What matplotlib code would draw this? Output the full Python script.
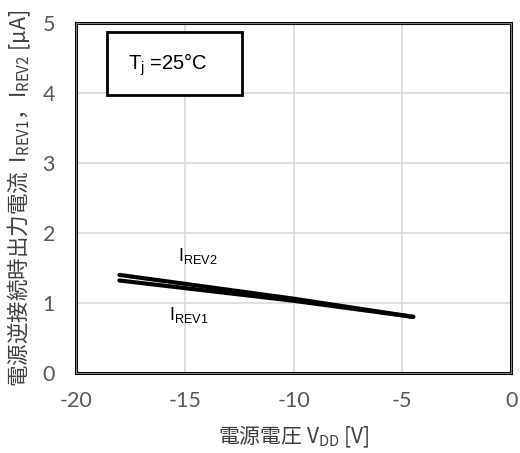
import matplotlib
matplotlib.use("Agg")
import matplotlib.pyplot as plt
from matplotlib.patches import Rectangle

plt.rcParams['font.family'] = ['Noto Sans CJK JP', 'DejaVu Sans']
plt.rcParams['mathtext.fontset'] = 'custom'
plt.rcParams['mathtext.rm'] = 'Liberation Sans'
plt.rcParams['axes.unicode_minus'] = False

# data
vdd = [-18, -10, -4.5]
irev1 = [1.32, 1.03, 0.80]
irev2 = [1.40, 1.06, 0.80]

xticks = [-20, -15, -10, -5, 0]
yticks = [0, 1, 2, 3, 4, 5]

fig = plt.figure(figsize=(5.2, 4.53), dpi=100)
ax = fig.add_axes([0.146, 0.177, 0.837, 0.772])

ax.plot(vdd, irev1, color='black', lw=3, solid_capstyle='round', zorder=3)
ax.plot(vdd, irev2, color='black', lw=3, solid_capstyle='round', zorder=3)

ax.set_xlim(-20, 0)
ax.set_ylim(0, 5)
ax.set_xticks(xticks)
ax.set_yticks(yticks)
ax.grid(True, color='#d9d9d9', lw=1.2)
ax.set_axisbelow(True)
ax.tick_params(length=0, labelsize=15.5, colors='#595959')
ax.tick_params(axis='x', pad=13)
ax.tick_params(axis='y', pad=15)
for lbl in ax.get_xticklabels() + ax.get_yticklabels():
    lbl.set_family(['Lato'])
for sp in ax.spines.values():
    sp.set_linewidth(2.2)
    sp.set_color('black')

# inner thin frame line (double border look)
ax.plot([0, 1, 1, 0, 0], [0, 0, 1, 1, 0], transform=ax.transAxes,
        color='#7f7f7f', lw=0.8, clip_on=False, zorder=4)

ax.set_xlabel(r'電源電圧 V$_\mathregular{DD}$ [V]', fontsize=15, color='#404040', labelpad=9)
ax.set_ylabel(r'電源逆接続時出力電流  I$_\mathregular{REV1}$，I$_\mathregular{REV2}$ [μA]',
              fontsize=15.5, color='#404040', labelpad=7)

# temperature box
ax.add_patch(Rectangle((-18.57, 3.97), 6.2, 0.9, fc='white', ec='black', lw=2, zorder=5))
ax.text(-17.6, 4.4, r'T$_\mathregular{j}$ =25°C', fontsize=14.5, va='center', ha='left',
        family=['Liberation Sans'], zorder=6)

ax.text(-15.3, 1.67, r'I$_\mathregular{REV2}$', fontsize=13, va='center',
        family=['Liberation Sans'])
ax.text(-15.7, 0.83, r'I$_\mathregular{REV1}$', fontsize=13, va='center',
        family=['Liberation Sans'])

fig.savefig('out.png', dpi=100)
